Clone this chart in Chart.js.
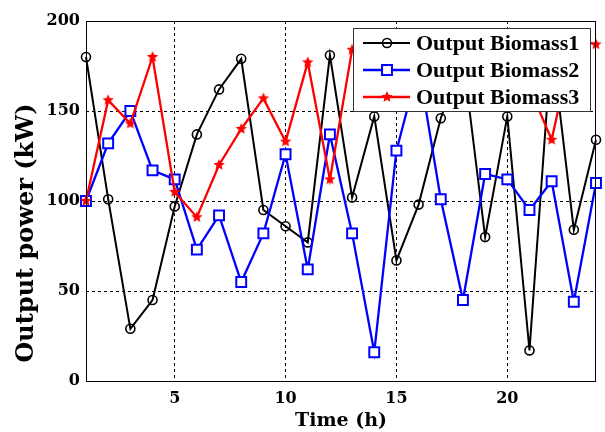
<!DOCTYPE html>
<html>
<head>
<meta charset="utf-8">
<script src="https://cdn.jsdelivr.net/npm/chart.js@4.4.1/dist/chart.umd.min.js"></script>
<style>
  html, body { margin: 0; padding: 0; background: #fff; }
</style>
</head>
<body>
<canvas id="chart" width="605" height="432"></canvas>
<script>
// hours on the x axis
const hours = [1, 2, 3, 4, 5, 6, 7, 8, 9, 10, 11, 12, 13, 14, 15, 16, 17, 18, 19, 20, 21, 22, 23, 24];
// output power (kW), some points sit under the legend box
const biomass1 = [180, 101, 29, 45, 97, 137, 162, 179, 95, 86, 77, 181, 102, 147, 67, 98, 146, 180, 80, 147, 17, 188, 84, 134];
const biomass2 = [100, 132, 150, 117, 112, 73, 92, 55, 82, 126, 62, 137, 82, 16, 128, 175, 101, 45, 115, 112, 95, 111, 44, 110];
const biomass3 = [100, 156, 143, 180, 105, 91, 120, 140, 157, 133, 177, 112, 184, 165, 190, 160, 185, 170, 192, 175, 163, 134, 190, 187];
const seriesNames = ["Output Biomass1", "Output Biomass2", "Output Biomass3"];
const xTicks = [5, 10, 15, 20];
const yTicks = [0, 50, 100, 150, 200];
const yTitle = "Output power (kW)";

// filled little star used as the red marker
function makeStar(color, r) {
    const c = document.createElement("canvas");
    const s = Math.ceil(r * 2 + 2);
    c.width = s;
    c.height = s;
    const g = c.getContext("2d");
    g.fillStyle = color;
    g.beginPath();
    for (let i = 0; i < 10; i++) {
        const rad = i % 2 ? r * 0.45 : r;
        const a = -Math.PI / 2 + i * Math.PI / 5;
        g.lineTo(s / 2 + rad * Math.cos(a), s / 2 + rad * Math.sin(a));
    }
    g.closePath();
    g.fill();
    return c;
}
const redStar = makeStar("#ff0000", 6);

function toPoints(values) {
    return hours.map((h, i) => ({ x: h, y: values[i] }));
}

const tickFont = { family: "'DejaVu Serif'", size: 16, weight: "bold" };

// legend drawn inside the plot (covers the lines like in the figure), box frame, y title
const frameAndLegend = {
    id: "frameAndLegend",
    afterDatasetsDraw(chart) {
        const ctx = chart.ctx;
        const a = chart.chartArea;
        const lx = a.right - 243, ly = a.top + 7, lw = 237, lh = 83;
        ctx.save();
        ctx.fillStyle = "#fff";
        ctx.fillRect(lx, ly, lw, lh);
        ctx.strokeStyle = "#333";
        ctx.lineWidth = 1;
        ctx.strokeRect(lx + 0.5, ly + 0.5, lw, lh);
        ctx.font = "bold 22px 'Liberation Serif'";
        ctx.textBaseline = "middle";
        chart.data.datasets.forEach((ds, i) => {
            const y = ly + 15 + i * 27;
            ctx.strokeStyle = ds.borderColor;
            ctx.lineWidth = ds.borderWidth;
            ctx.beginPath();
            ctx.moveTo(lx + 10, y);
            ctx.lineTo(lx + 57, y);
            ctx.stroke();
            ctx.fillStyle = ds.pointBackgroundColor;
            ctx.lineWidth = ds.pointBorderWidth;
            Chart.helpers.drawPoint(ctx, {
                pointStyle: ds.pointStyle,
                radius: ds.pointRadius,
                borderWidth: ds.pointBorderWidth,
                rotation: 0
            }, lx + 34, y);
            ctx.fillStyle = "#000";
            ctx.fillText(ds.label, lx + 63, y + 1);
        });
        ctx.restore();
    },
    afterDraw(chart) {
        const ctx = chart.ctx;
        const a = chart.chartArea;
        ctx.save();
        ctx.strokeStyle = "#000";
        ctx.lineWidth = 1;
        ctx.strokeRect(a.left + 0.5, a.top + 0.5, a.right - a.left - 1, a.bottom - a.top);
        // y axis title, placed a bit lower than the plot centre like the figure
        ctx.translate(27, 233);
        ctx.rotate(-Math.PI / 2);
        ctx.font = "bold 24px 'DejaVu Serif'";
        ctx.fillStyle = "#000";
        ctx.textAlign = "center";
        ctx.textBaseline = "middle";
        ctx.fillText(yTitle, 0, 0);
        ctx.restore();
    }
};

new Chart(document.getElementById("chart"), {
    type: "line",
    data: {
        datasets: [
            {
                label: seriesNames[0],
                data: toPoints(biomass1),
                borderColor: "#000000",
                borderWidth: 2,
                pointStyle: "circle",
                pointRadius: 4.5,
                pointBorderWidth: 1.6,
                pointBorderColor: "#000000",
                pointBackgroundColor: "rgba(0,0,0,0)",
                order: 3
            },
            {
                label: seriesNames[1],
                data: toPoints(biomass2),
                borderColor: "#0000ff",
                borderWidth: 2.3,
                pointStyle: "rect",
                pointRadius: 7,
                pointBorderWidth: 2,
                pointBorderColor: "#0000ff",
                pointBackgroundColor: "#ffffff",
                order: 2
            },
            {
                label: seriesNames[2],
                data: toPoints(biomass3),
                borderColor: "#ff0000",
                borderWidth: 2.3,
                pointStyle: redStar,
                pointRadius: 6,
                pointBorderWidth: 1,
                pointBorderColor: "#ff0000",
                pointBackgroundColor: "#ff0000",
                order: 1
            }
        ]
    },
    options: {
        responsive: false,
        animation: false,
        clip: false,
        layout: { padding: { top: 21, right: 2, left: 0, bottom: 0 } },
        plugins: {
            legend: { display: false },
            tooltip: { enabled: false }
        },
        elements: { line: { tension: 0 } },
        scales: {
            x: {
                type: "linear",
                min: 1,
                max: 24,
                afterBuildTicks: s => { s.ticks = xTicks.map(v => ({ value: v })); },
                afterFit: s => { s.height = 51; },
                grid: { color: "#000", lineWidth: 1, drawTicks: false },
                border: { display: false, dash: [3, 3] },
                ticks: { color: "#000", font: tickFont, padding: 8, maxRotation: 0 },
                title: {
                    display: true,
                    text: "Time (h)",
                    color: "#000",
                    font: { family: "'DejaVu Serif'", size: 19, weight: "bold" },
                    padding: { top: 0, bottom: 0 }
                }
            },
            y: {
                min: 0,
                max: 200,
                afterBuildTicks: s => { s.ticks = yTicks.map(v => ({ value: v })); },
                afterFit: s => { s.width = 86; },
                grid: { color: "#000", lineWidth: 1, drawTicks: false },
                border: { display: false, dash: [3, 3] },
                ticks: { color: "#000", font: tickFont, padding: 6 }
            }
        }
    },
    plugins: [frameAndLegend]
});
</script>
</body>
</html>
